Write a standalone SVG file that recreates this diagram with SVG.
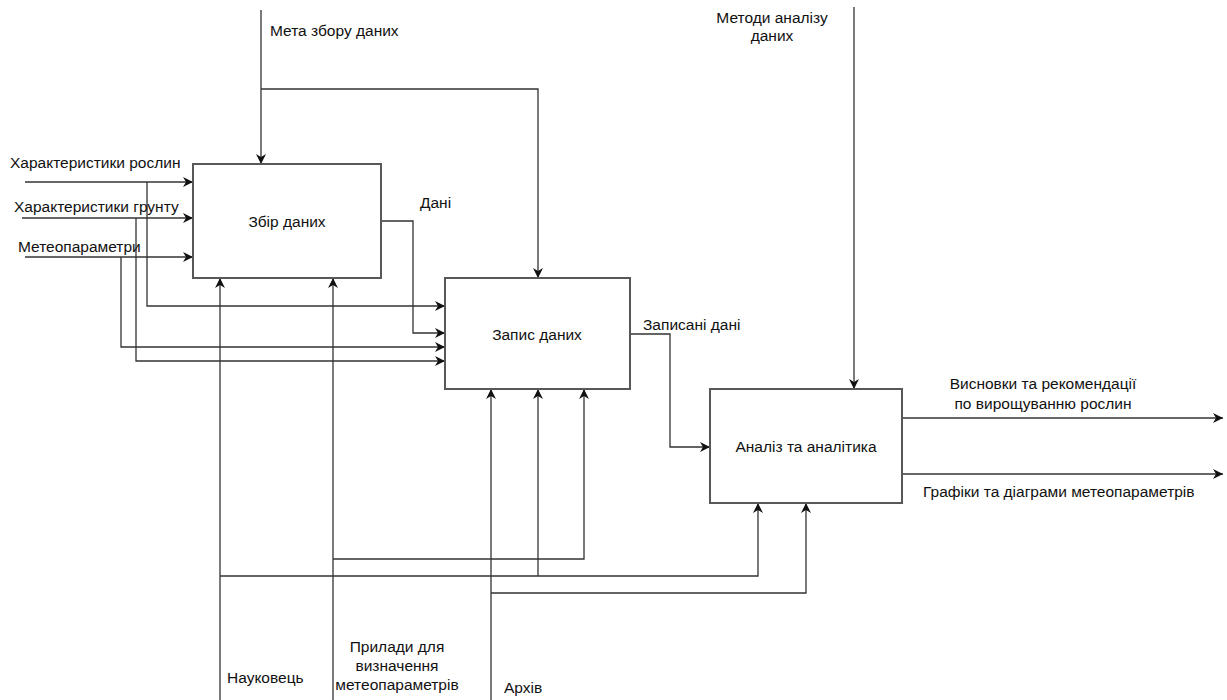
<svg xmlns="http://www.w3.org/2000/svg" width="1227" height="700" viewBox="0 0 1227 700">
<style>
.box{fill:#fff;stroke:#585858;stroke-width:2}
.c{fill:none;stroke:#333;stroke-width:1.3}
text{font-family:"Liberation Sans",Arial,sans-serif;font-size:15.5px;fill:#111}
.m{text-anchor:middle}
</style>
<defs>
<marker id="ah" viewBox="0 0 10 10" refX="10" refY="5" markerWidth="10" markerHeight="10" markerUnits="userSpaceOnUse" orient="auto">
<path d="M0,0 L10,5 L0,10 L3,5 Z" fill="#111"/>
</marker>
</defs>
<rect width="1227" height="700" fill="#fff"/>
<g id="connectors">
<path class="c" d="M25,182 H193" marker-end="url(#ah)"/>
<path class="c" d="M22,218 H193" marker-end="url(#ah)"/>
<path class="c" d="M25,257 H193" marker-end="url(#ah)"/>
<path class="c" d="M147,182 V306 H445" marker-end="url(#ah)"/>
<path class="c" d="M121,257 V347 H445" marker-end="url(#ah)"/>
<path class="c" d="M136,218 V361 H445" marker-end="url(#ah)"/>
<path class="c" d="M381,221 H413 V333 H445" marker-end="url(#ah)"/>
<path class="c" d="M261,10 V164" marker-end="url(#ah)"/>
<path class="c" d="M261,89 H538 V278" marker-end="url(#ah)"/>
<path class="c" d="M854,7 V389" marker-end="url(#ah)"/>
<path class="c" d="M630,334 H670 V447 H710" marker-end="url(#ah)"/>
<path class="c" d="M902,418 H1223" marker-end="url(#ah)"/>
<path class="c" d="M902,474 H1223" marker-end="url(#ah)"/>
<path class="c" d="M220,700 V278" marker-end="url(#ah)"/>
<path class="c" d="M220,576 H758 V503" marker-end="url(#ah)"/>
<path class="c" d="M538,576 V389" marker-end="url(#ah)"/>
<path class="c" d="M333,700 V278" marker-end="url(#ah)"/>
<path class="c" d="M333,559 H584 V389" marker-end="url(#ah)"/>
<path class="c" d="M491,700 V389" marker-end="url(#ah)"/>
<path class="c" d="M491,593 H806 V503" marker-end="url(#ah)"/>
</g>
<g id="node-zbir">
<rect class="box" x="193" y="164" width="188" height="114"/>
<text class="m" x="287" y="227">Збір даних</text>
</g>
<g id="node-zapys">
<rect class="box" x="445" y="278" width="185" height="111"/>
<text class="m" x="537" y="340">Запис даних</text>
</g>
<g id="node-analiz">
<rect class="box" x="710" y="389" width="192" height="114"/>
<text class="m" x="806" y="452">Аналіз та аналітика</text>
</g>
<g id="labels">
<text x="270" y="36">Мета збору даних</text>
<text class="m" x="772" y="23">Методи аналізу</text>
<text class="m" x="772" y="41">даних</text>
<text x="10" y="168">Характеристики рослин</text>
<text x="14" y="212">Характеристики грунту</text>
<text x="18" y="252">Метеопараметри</text>
<text x="420" y="208">Дані</text>
<text x="643" y="330">Записані дані</text>
<text class="m" x="1043" y="389">Висновки та рекомендації</text>
<text class="m" x="1043" y="409">по вирощуванню рослин</text>
<text x="923" y="497">Графіки та діаграми метеопараметрів</text>
<text x="227" y="683">Науковець</text>
<text class="m" x="397" y="652">Прилади для</text>
<text class="m" x="397" y="671">визначення</text>
<text class="m" x="397" y="690">метеопараметрів</text>
<text x="504" y="693">Архів</text>
</g>
</svg>
